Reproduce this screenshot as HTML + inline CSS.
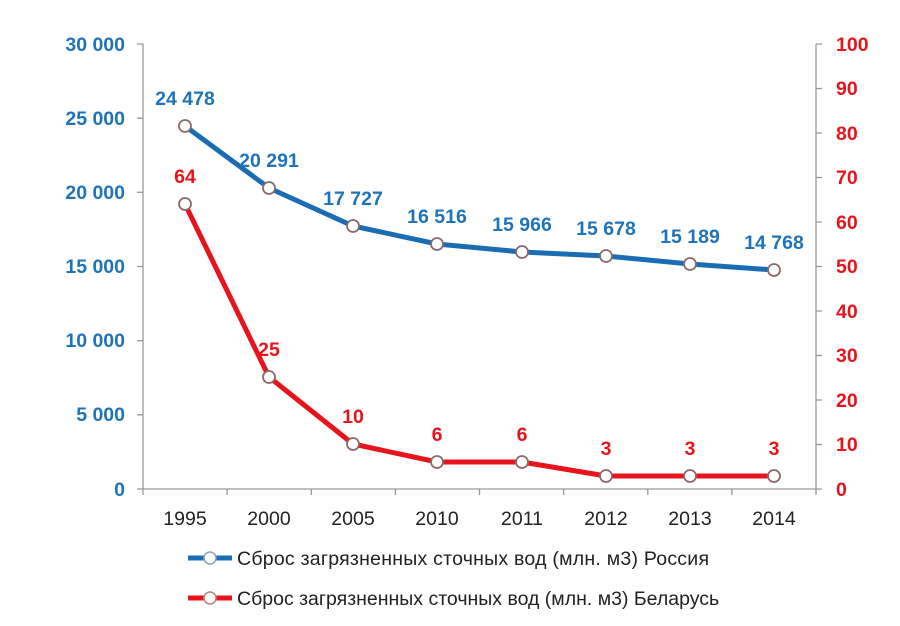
<!DOCTYPE html>
<html><head><meta charset="utf-8"><style>
body{margin:0;background:#fff;}
svg text{font-family:"Liberation Sans",sans-serif;}
</style></head><body>
<svg width="900" height="621" viewBox="0 0 900 621" xmlns="http://www.w3.org/2000/svg">
<rect width="900" height="621" fill="#fff"/>
<g stroke="#999" stroke-width="1.3" fill="none">
<line x1="143" y1="44" x2="143" y2="489"/>
<line x1="816" y1="44" x2="816" y2="489"/>
<line x1="143" y1="489" x2="816" y2="489"/>
<path d="M137 44H143M137 118.2H143M137 192.3H143M137 266.5H143M137 340.7H143M137 414.8H143M137 489H143"/>
<path d="M816 44H822M816 88.5H822M816 133H822M816 177.5H822M816 222H822M816 266.5H822M816 311H822M816 355.5H822M816 400H822M816 444.5H822M816 489H822"/>
<path d="M143 489V495M227.1 489V495M311.3 489V495M395.4 489V495M479.5 489V495M563.6 489V495M647.8 489V495M731.9 489V495M816 489V495"/>
</g>
<g fill="#1f74b9" font-weight="bold" font-size="19.5" text-anchor="end">
<text x="125" y="51">30 000</text><text x="125" y="125">25 000</text><text x="125" y="199">20 000</text>
<text x="125" y="273">15 000</text><text x="125" y="347">10 000</text><text x="125" y="421">5 000</text><text x="125" y="496">0</text>
</g>
<g fill="#e8141b" font-weight="bold" font-size="19.5">
<text x="836" y="51">100</text><text x="836" y="95">90</text><text x="836" y="140">80</text><text x="836" y="184">70</text>
<text x="836" y="229">60</text><text x="836" y="273">50</text><text x="836" y="318">40</text><text x="836" y="362">30</text>
<text x="836" y="407">20</text><text x="836" y="451">10</text><text x="836" y="496">0</text>
</g>
<g fill="#222" font-size="19.5" text-anchor="middle">
<text x="185" y="525">1995</text><text x="269" y="525">2000</text><text x="353" y="525">2005</text><text x="437" y="525">2010</text>
<text x="522" y="525">2011</text><text x="606" y="525">2012</text><text x="690" y="525">2013</text><text x="774" y="525">2014</text>
</g>
<polyline fill="none" stroke="#1a6cb3" stroke-width="5" stroke-linejoin="round" points="185,126 269,188 353,226 437,244 522,252 606,256 690,264 774,270"/>
<polyline fill="none" stroke="#e8141b" stroke-width="5" stroke-linejoin="round" points="185,204 269,377 353,444 437,462 522,462 606,476 690,476 774,476"/>
<g fill="#fff" stroke="#8a6a6a" stroke-width="1.8">
<circle cx="185" cy="126" r="6"/><circle cx="269" cy="188" r="6"/><circle cx="353" cy="226" r="6"/><circle cx="437" cy="244" r="6"/>
<circle cx="522" cy="252" r="6"/><circle cx="606" cy="256" r="6"/><circle cx="690" cy="264" r="6"/><circle cx="774" cy="270" r="6"/>
<circle cx="185" cy="204" r="6"/><circle cx="269" cy="377" r="6"/><circle cx="353" cy="444" r="6"/><circle cx="437" cy="462" r="6"/>
<circle cx="522" cy="462" r="6"/><circle cx="606" cy="476" r="6"/><circle cx="690" cy="476" r="6"/><circle cx="774" cy="476" r="6"/>
</g>
<g fill="#1f74b9" font-weight="bold" font-size="19.5" text-anchor="middle">
<text x="185" y="105">24 478</text><text x="269" y="167">20 291</text><text x="353" y="205">17 727</text><text x="437" y="223">16 516</text>
<text x="522" y="231">15 966</text><text x="606" y="235">15 678</text><text x="690" y="243">15 189</text><text x="774" y="249">14 768</text>
</g>
<g fill="#e8141b" font-weight="bold" font-size="19.5" text-anchor="middle">
<text x="185" y="183">64</text><text x="269" y="356">25</text><text x="353" y="423">10</text><text x="437" y="441">6</text>
<text x="522" y="441">6</text><text x="606" y="455">3</text><text x="690" y="455">3</text><text x="774" y="455">3</text>
</g>
<line x1="188" y1="558" x2="232" y2="558" stroke="#1a6cb3" stroke-width="5"/>
<circle cx="210" cy="558" r="6" fill="#fff" stroke="#8aa0c0" stroke-width="1.5"/>
<text x="237" y="565" font-size="19.5" fill="#222" textLength="472">Сброс загрязненных сточных вод (млн. м3) Россия</text>
<line x1="188" y1="598" x2="232" y2="598" stroke="#e8141b" stroke-width="5"/>
<circle cx="210" cy="598" r="6" fill="#fff" stroke="#c08080" stroke-width="1.5"/>
<text x="237" y="605" font-size="19.5" fill="#222">Сброс загрязненных сточных вод (млн. м3) Беларусь</text>
</svg>
</body></html>
